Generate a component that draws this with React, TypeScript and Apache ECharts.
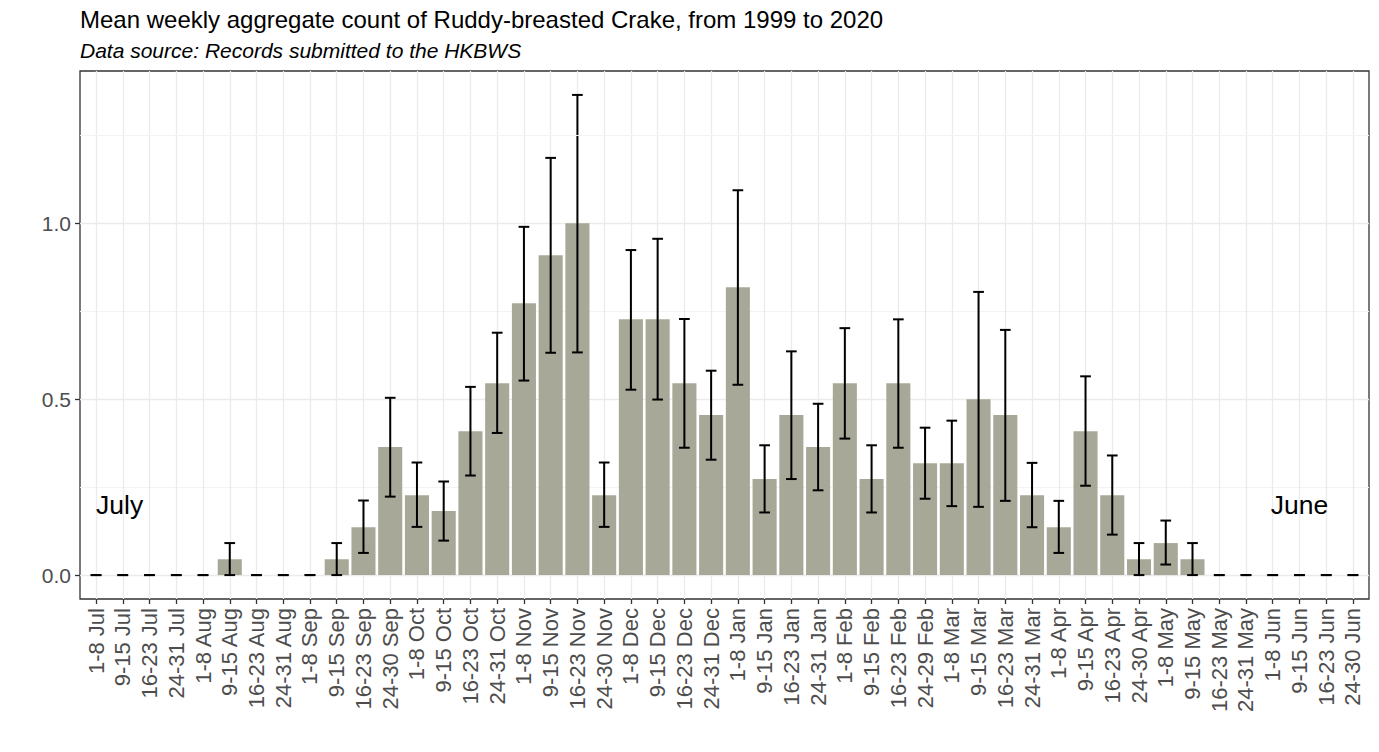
import React, { useEffect, useRef } from "react";
import * as echarts from "echarts";

const categories = [
  "1-8 Jul", "9-15 Jul", "16-23 Jul", "24-31 Jul",
  "1-8 Aug", "9-15 Aug", "16-23 Aug", "24-31 Aug",
  "1-8 Sep", "9-15 Sep", "16-23 Sep", "24-30 Sep",
  "1-8 Oct", "9-15 Oct", "16-23 Oct", "24-31 Oct",
  "1-8 Nov", "9-15 Nov", "16-23 Nov", "24-30 Nov",
  "1-8 Dec", "9-15 Dec", "16-23 Dec", "24-31 Dec",
  "1-8 Jan", "9-15 Jan", "16-23 Jan", "24-31 Jan",
  "1-8 Feb", "9-15 Feb", "16-23 Feb", "24-29 Feb",
  "1-8 Mar", "9-15 Mar", "16-23 Mar", "24-31 Mar",
  "1-8 Apr", "9-15 Apr", "16-23 Apr", "24-30 Apr",
  "1-8 May", "9-15 May", "16-23 May", "24-31 May",
  "1-8 Jun", "9-15 Jun", "16-23 Jun", "24-30 Jun",
];

const meanCount = [
  0, 0, 0, 0,
  0, 0.045, 0, 0,
  0, 0.045, 0.136, 0.364,
  0.227, 0.182, 0.409, 0.545,
  0.773, 0.909, 1.0, 0.227,
  0.727, 0.727, 0.545, 0.455,
  0.818, 0.273, 0.455, 0.364,
  0.545, 0.273, 0.545, 0.318,
  0.318, 0.5, 0.455, 0.227,
  0.136, 0.409, 0.227, 0.045,
  0.091, 0.045, 0, 0,
  0, 0, 0, 0,
];

const lowerErr = [
  0, 0, 0, 0,
  0, 0, 0, 0,
  0, 0, 0.063, 0.223,
  0.137, 0.098, 0.283, 0.404,
  0.553, 0.632, 0.633, 0.137,
  0.527, 0.499, 0.362, 0.328,
  0.541, 0.178, 0.273, 0.241,
  0.388, 0.178, 0.362, 0.217,
  0.196, 0.194, 0.211, 0.136,
  0.063, 0.254, 0.115, 0,
  0.03, 0, 0, 0,
  0, 0, 0, 0,
];

const upperErr = [
  0, 0, 0, 0,
  0, 0.091, 0, 0,
  0, 0.091, 0.212, 0.504,
  0.32, 0.266, 0.535, 0.689,
  0.99, 1.186, 1.365, 0.32,
  0.924, 0.956, 0.728, 0.581,
  1.094, 0.369, 0.636, 0.487,
  0.702, 0.369, 0.727, 0.419,
  0.439, 0.805, 0.697, 0.319,
  0.211, 0.565, 0.34, 0.091,
  0.155, 0.091, 0, 0,
  0, 0, 0, 0,
];

const yTickValues = [0, 0.5, 1.0];
const monthLabels = [
  { idx: 0, y: 0.2, text: "July", align: "left" },
  { idx: 45, y: 0.2, text: "June", align: "center" },
];

const TITLE = "Mean weekly aggregate count of Ruddy-breasted Crake, from 1999 to 2020";
const SUBTITLE = "Data source: Records submitted to the HKBWS";

const FONT = "'Liberation Sans', Arial, Helvetica, sans-serif";

// panel geometry
const PL = 80;
const PT = 71;
const PW = 1289;
const PH = 528;
const YMIN = -0.068;
const YMAX = 1.433;
const XMIN = -0.6;
const XMAX = categories.length - 1 + 0.6;

export default function App() {
  const ref = useRef<HTMLDivElement>(null);

  useEffect(() => {
    if (!ref.current) return;
    const chart = echarts.init(ref.current, null, { renderer: "svg" });

    const yRange = YMAX - YMIN;
    const yTop1 = PT + ((YMAX - yTickValues[yTickValues.length - 1]) / yRange) * PH;
    const h1 = ((yTickValues[yTickValues.length - 1] - yTickValues[0]) / yRange) * PH;
    const xRange = XMAX - XMIN;
    const catLeft = PL + ((0 - XMIN) / xRange) * PW;
    const catW = ((categories.length - 1) / xRange) * PW;

    const barData = categories.map((_, i) => [i, meanCount[i], lowerErr[i], upperErr[i]]);

    const option = {
      animation: false,
      backgroundColor: "#ffffff",
      textStyle: { fontFamily: FONT },
      grid: [
        {
          left: PL, top: PT, width: PW, height: PH,
          show: true, borderColor: "#333333", borderWidth: 1.3,
          backgroundColor: "rgba(0,0,0,0)", containLabel: false, outerBoundsMode: "none",
        },
        { left: PL, top: yTop1, width: PW, height: h1, containLabel: false, outerBoundsMode: "none" },
        { left: catLeft, top: PT, width: catW, height: PH, containLabel: false, outerBoundsMode: "none" },
      ],
      xAxis: [
        { type: "value", gridIndex: 0, min: XMIN, max: XMAX, show: false },
        { type: "value", gridIndex: 1, min: 0, max: 1, show: false },
        {
          type: "category",
          gridIndex: 2,
          data: categories,
          boundaryGap: false,
          axisLine: { show: false },
          axisTick: { show: true, length: 5, lineStyle: { color: "#333333", width: 1.3 } },
          splitLine: { show: true, lineStyle: { color: "#ebebeb", width: 1.3 } },
          axisLabel: {
            interval: 0,
            rotate: 90,
            fontSize: 22,
            color: "#4d4d4d",
            margin: 9,
            fontFamily: FONT,
          },
        },
      ],
      yAxis: [
        { type: "value", gridIndex: 0, min: YMIN, max: YMAX, show: false },
        {
          type: "value",
          gridIndex: 1,
          min: 0,
          max: 1,
          interval: 0.5,
          axisLine: { show: false },
          axisTick: { show: true, length: 5, lineStyle: { color: "#333333", width: 1.3 } },
          splitLine: { show: true, lineStyle: { color: "#ebebeb", width: 1.3 } },
          minorTick: { show: false, splitNumber: 2 },
          minorSplitLine: { show: true, lineStyle: { color: "#f3f3f3", width: 1 } },
          axisLabel: {
            fontSize: 21,
            color: "#4d4d4d",
            margin: 9,
            fontFamily: FONT,
            formatter: (v: number) => v.toFixed(1),
          },
        },
        { type: "value", gridIndex: 2, min: 0, max: 1, show: false },
      ],
      series: [
        {
          type: "line",
          xAxisIndex: 0,
          yAxisIndex: 0,
          data: [],
          z: 0,
          silent: true,
          markLine: {
            silent: true,
            symbol: ["none", "none"],
            label: { show: false },
            lineStyle: { color: "#f3f3f3", width: 1, type: "solid" },
            data: [{ yAxis: 1.25 }],
          },
        },
        {
          type: "custom",
          xAxisIndex: 0,
          yAxisIndex: 0,
          z: 3,
          data: barData,
          encode: { x: 0, y: [1, 2, 3] },
          renderItem: (params: any, api: any) => {
            const x = api.value(0);
            const m = api.value(1);
            const lo = api.value(2);
            const hi = api.value(3);
            const p0 = api.coord([x, 0]);
            const pm = api.coord([x, m]);
            const pl = api.coord([x, lo]);
            const ph = api.coord([x, hi]);
            const bw = api.size([0.9, 0])[0];
            const ww = api.size([0.4, 0])[0];
            const children: any[] = [];
            if (m > 0) {
              children.push({
                type: "rect",
                shape: { x: p0[0] - bw / 2, y: pm[1], width: bw, height: p0[1] - pm[1] },
                style: { fill: "#a7a898" },
              });
            }
            const ls = { stroke: "#000000", lineWidth: 2 };
            if (hi > lo) {
              children.push({
                type: "line",
                shape: { x1: pl[0], y1: pl[1], x2: ph[0], y2: ph[1] },
                style: ls,
              });
            }
            children.push({
              type: "line",
              shape: { x1: ph[0] - ww / 2, y1: ph[1], x2: ph[0] + ww / 2, y2: ph[1] },
              style: ls,
            });
            children.push({
              type: "line",
              shape: { x1: pl[0] - ww / 2, y1: pl[1], x2: pl[0] + ww / 2, y2: pl[1] },
              style: ls,
            });
            return { type: "group", children };
          },
        },
        {
          type: "custom",
          xAxisIndex: 0,
          yAxisIndex: 0,
          z: 4,
          data: monthLabels.map((d) => [d.idx, d.y]),
          encode: { x: 0, y: 1 },
          renderItem: (params: any, api: any) => {
            const d = monthLabels[params.dataIndex];
            const p = api.coord([api.value(0), api.value(1)]);
            return {
              type: "text",
              x: p[0],
              y: p[1],
              style: {
                text: d.text,
                fill: "#000000",
                font: `26.5px ${FONT}`,
                align: d.align,
                verticalAlign: "middle",
                textAlign: d.align,
                textVerticalAlign: "middle",
              },
            };
          },
        },
      ],
      graphic: [
        {
          type: "text",
          x: 80,
          y: 19.2,
          style: {
            text: TITLE,
            fill: "#000000",
            font: `24px ${FONT}`,
            align: "left",
            verticalAlign: "middle",
            textAlign: "left",
            textVerticalAlign: "middle",
          },
        },
        {
          type: "text",
          x: 80,
          y: 50.1,
          style: {
            text: SUBTITLE,
            fill: "#000000",
            font: `italic 21px ${FONT}`,
            align: "left",
            verticalAlign: "middle",
            textAlign: "left",
            textVerticalAlign: "middle",
          },
        },
      ],
    };

    chart.setOption(option as any);
    return () => chart.dispose();
  }, []);

  return (
    <div
      ref={ref}
      style={{ position: "fixed", left: 0, top: 0, width: 1379, height: 752, background: "#fff" }}
    />
  );
}
